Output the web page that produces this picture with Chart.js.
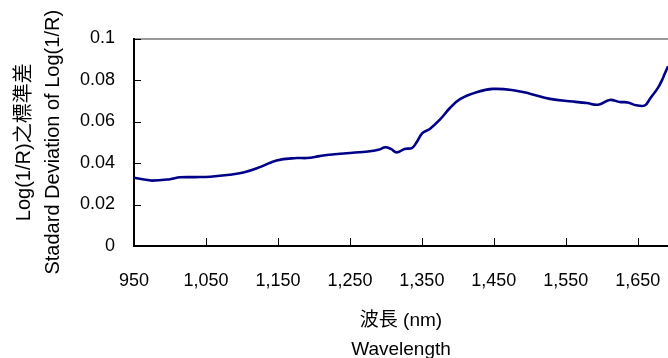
<!DOCTYPE html>
<html>
<head>
<meta charset="utf-8">
<script src="https://cdn.jsdelivr.net/npm/chart.js@4/dist/chart.umd.min.js"></script>
<style>
html,body{margin:0;padding:0;background:#fff;}
canvas{display:block;}
</style>
</head>
<body>
<canvas id="c" width="668" height="358"></canvas>
<script>
// Wavelength (nm) of sampled points along the curve
const wavelengths = [950, 962, 975, 1000, 1014, 1035, 1056, 1083, 1102, 1125, 1148, 1176, 1190, 1208, 1222, 1245, 1278, 1291, 1299, 1307, 1315, 1326, 1336, 1342, 1351, 1361, 1375, 1389, 1403, 1426, 1449, 1477, 1500, 1528, 1560, 1570, 1579, 1595, 1611, 1625, 1636, 1648, 1660, 1667, 1678, 1684, 1687, 1692];
// Standard deviation of Log(1/R)
const stdDev = [0.0329, 0.0322, 0.0315, 0.0322, 0.0331, 0.0332, 0.0334, 0.0343, 0.0354, 0.0380, 0.0412, 0.0424, 0.0424, 0.0433, 0.0440, 0.0447, 0.0457, 0.0465, 0.0476, 0.0468, 0.0451, 0.0468, 0.0472, 0.0496, 0.0545, 0.0564, 0.0609, 0.0665, 0.0708, 0.0741, 0.0757, 0.0751, 0.0734, 0.0709, 0.0696, 0.0692, 0.0689, 0.0681, 0.0704, 0.0694, 0.0692, 0.0678, 0.0678, 0.0710, 0.0762, 0.0802, 0.0826, 0.0866];

const xTickValues = [950, 1050, 1150, 1250, 1350, 1450, 1550, 1650];
const xTickLabels = ['950', '1,050', '1,150', '1,250', '1,350', '1,450', '1,550', '1,650'];
const yTickValues = [0, 0.02, 0.04, 0.06, 0.08, 0.1];
const yTickLabels = ['0', '0.02', '0.04', '0.06', '0.08', '0.1'];

const xTitle = ['波長 (nm)', 'Wavelength'];
const yTitle = ['Log(1/R)之標準差', 'Stadard Deviation of Log(1/R)'];

const FONT = '"Liberation Sans", Arial, "Noto Sans CJK TC", sans-serif';

const innerTicks = {
  id: 'innerTicks',
  afterDatasetsDraw(chart) {
    const ctx = chart.ctx;
    const xs = chart.scales.x, ys = chart.scales.y;
    const a = chart.chartArea;
    ctx.save();
    ctx.strokeStyle = '#000';
    ctx.lineWidth = 1;
    xTickValues.forEach(v => {
      const px = Math.round(xs.getPixelForValue(v)) + 0.5;
      ctx.beginPath();
      ctx.moveTo(px, a.bottom);
      ctx.lineTo(px, a.bottom - 8);
      ctx.stroke();
    });
    yTickValues.forEach(v => {
      const py = Math.round(ys.getPixelForValue(v)) + 0.5;
      ctx.beginPath();
      ctx.moveTo(a.left, py);
      ctx.lineTo(a.left + 7, py);
      ctx.stroke();
    });
    ctx.restore();
  }
};

new Chart(document.getElementById('c'), {
  type: 'line',
  data: {
    datasets: [{
      data: wavelengths.map((w, i) => ({x: w, y: stdDev[i]})),
      borderColor: '#000088',
      borderWidth: 2.6,
      pointRadius: 0,
      tension: 0.4,
      fill: false
    }]
  },
  options: {
    responsive: false,
    animation: false,
    layout: {padding: {top: 38.5, right: 0, bottom: 0, left: 0}},
    plugins: {legend: {display: false}, tooltip: {enabled: false}},
    scales: {
      x: {
        type: 'linear',
        min: 950,
        max: 1692,
        afterBuildTicks: s => { s.ticks = xTickValues.map(v => ({value: v})); },
        afterFit: s => { s.height = 112; s.paddingRight = 0; s.paddingLeft = 0; },
        ticks: {
          color: '#000',
          font: {family: FONT, size: 18},
          padding: 24,
          maxRotation: 0,
          autoSkip: false,
          callback: (v, i) => xTickLabels[i]
        },
        grid: {display: true, color: 'rgba(0,0,0,0)', drawTicks: false},
        border: {display: true, color: '#000', width: 2},
        title: {
          display: true,
          text: xTitle,
          color: '#000',
          font: {family: FONT, size: 19, lineHeight: 1.53},
          padding: {top: 0, bottom: -6}
        }
      },
      y: {
        min: 0,
        max: 0.1,
        afterBuildTicks: s => { s.ticks = yTickValues.map(v => ({value: v})); },
        afterFit: s => { s.width = 134; },
        ticks: {
          color: '#000',
          font: {family: FONT, size: 18},
          padding: 19,
          autoSkip: false,
          callback: (v, i) => yTickLabels[i]
        },
        grid: {
          display: true,
          drawTicks: false,
          color: ctx => (ctx.tick && ctx.tick.value === 0.1) ? '#999999' : 'rgba(0,0,0,0)',
          lineWidth: 2
        },
        border: {display: true, color: '#000', width: 2},
        title: {
          display: true,
          text: yTitle,
          color: '#000',
          font: {family: FONT, size: 20, lineHeight: 1.45},
          padding: {top: 10, bottom: 0}
        }
      }
    }
  },
  plugins: [innerTicks]
});
</script>
</body>
</html>
